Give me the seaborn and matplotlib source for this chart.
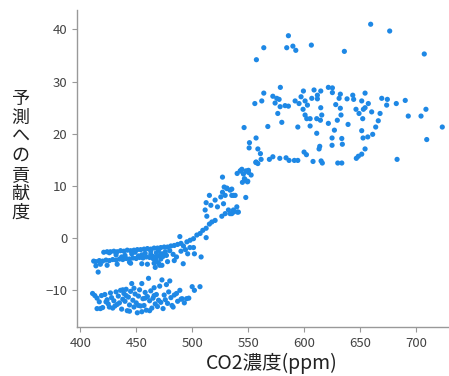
import matplotlib
matplotlib.use("Agg")
import matplotlib.pyplot as plt
import seaborn as sns
import pandas as pd

# ---- data ----
# upper-left band (contribution around -1 .. -5)
band_x = [421, 424, 427, 430, 433, 436, 439, 442, 445, 448, 451, 454, 457, 460, 463, 466, 469, 472, 475, 478, 481, 484, 487, 490,
          412, 414, 417, 420, 423, 426, 429, 432, 435, 438, 441, 444, 447, 450, 453, 456, 459, 462, 465, 468, 471, 474, 477,
          432, 440, 446, 452, 458, 463, 468, 472,
          414, 416, 418, 424, 433, 445, 455, 460, 467, 470, 473, 478, 484, 486, 492, 496, 502, 508, 490, 494, 498, 489,
          463, 465, 468, 470, 472, 474, 476, 471, 466, 426, 437, 449, 455, 444, 480, 483]
band_y = [-2.7, -2.6, -2.6, -2.5, -2.6, -2.4, -2.5, -2.3, -2.4, -2.3, -2.2, -2.2, -2.1, -2.0, -2.1, -1.9, -1.9, -1.8, -1.7, -1.7, -1.5, -1.4, -1.2, -1.0,
          -4.4, -4.5, -4.3, -4.4, -4.2, -4.3, -4.1, -4.2, -4.0, -4.1, -3.9, -4.0, -3.8, -3.9, -3.7, -3.8, -3.6, -3.7, -3.5, -3.6, -3.4, -3.5, -3.3,
          -3.2, -3.3, -3.0, -3.4, -2.9, -3.1, -2.8, -3.0,
          -5.3, -6.5, -5.0, -5.2, -5.0, -4.8, -4.9, -5.0, -5.6, -4.8, -5.2, -4.5, -4.3, -3.6, -4.9, -3.0, -3.0, -3.6, -2.5, -2.2, -1.8, 0.3,
          -2.5, -3.9, -4.4, -2.3, -4.0, -3.0, -2.6, -5.2, -4.8, -2.8, -3.6, -2.7, -3.2, -4.6, -2.4, -3.1]

# lower-left cluster (contribution around -8 .. -14)
low_x = [411, 413, 415, 417, 415, 418, 420, 419, 422, 424, 425, 427, 428, 430, 431, 432, 434, 435, 436, 437, 438, 439, 440, 441,
         442, 443, 444, 445, 446, 447, 448, 449, 450, 451, 452, 453, 454, 455, 456, 457, 458, 459, 460, 461, 462, 463, 464, 465,
         466, 467, 468, 469, 470, 471, 472, 473, 474, 475, 476, 477, 478, 479, 480, 481, 482, 483, 484, 486, 487, 489, 490, 491,
         493, 495, 497, 500, 502, 507, 433, 426, 444, 455, 462, 438, 448, 423, 429, 466, 452, 441, 458]
low_y = [-10.6, -11.0, -11.5, -12.2, -13.5, -13.5, -13.3, -11.0, -10.8, -11.8, -12.6, -10.5, -11.4, -12.0, -13.0, -10.3, -11.1, -12.4,
         -10.0, -13.6, -11.7, -10.6, -12.1, -9.8, -13.9, -11.3, -12.8, -10.2, -8.7, -11.9, -13.2, -10.7, -12.4, -14.3, -11.1, -9.9,
         -13.0, -8.7, -11.6, -12.9, -10.4, -13.8, -11.2, -7.7, -12.0, -10.1, -13.4, -11.5, -9.5, -12.6, -10.8, -13.1, -11.9, -9.2,
         -12.3, -8.0, -13.5, -10.9, -11.8, -8.9, -12.5, -10.3, -8.2, -11.4, -12.9, -13.2, -10.9, -10.6, -12.1, -10.0, -11.7, -11.6,
         -12.4, -11.6, -11.5, -9.3, -10.0, -9.3, -12.7, -13.2, -14.0, -14.1, -13.9, -9.9, -9.6, -12.2, -13.4, -11.0, -12.9, -11.0, -11.5]

# transition region (500 .. 560 ppm)
mid_x = [543.5, 545.8, 550.3, 552.7, 547.3, 549.4, 557.1, 527.1, 528.6, 531.0, 527.1, 533.9, 536.9, 529.5, 525.6, 547.9, 515.4,
         520.5, 512.5, 516.7, 522.6, 528.0, 532.4, 536.9, 540.4, 535.4, 529.5, 526.5, 511.6, 513.1, 520.5, 517.6, 515.4, 512.5,
         509.5, 507.1, 504.2, 501.2, 498.2, 495.3, 512.5, 492.2, 501.2, 535.4, 538.4, 539.9, 541.3, 536.9, 533.9,
         548.2, 544.4, 542.9, 540.2, 550.3, 546.7, 549.7, 544.9, 531.0, 535.4]
mid_y = [12.9, 12.3, 13.0, 12.1, 11.2, 10.8, 14.6, 11.7, 9.8, 9.5, 8.8, 9.2, 8.2, 8.2, 7.9, 7.8, 8.2,
         7.3, 6.8, 6.3, 6.0, 6.6, 5.4, 5.4, 5.0, 4.7, 4.7, 4.2, 5.4, 4.2, 3.4, 3.1, 2.7, 1.9,
         1.5, 0.9, 0.6, -0.1, -0.4, -0.7, 0.1, -1.5, -1.8, 8.2, 8.2, 6.0, 5.0, 5.0, 4.7,
         12.9, 13.2, 12.9, 12.4, 12.6, 11.4, 10.9, 10.7, 9.6, 9.4]

# high plateau (> 545 ppm)
high_x = [564.0, 578.8, 562.2, 556.0, 572.1, 575.6, 577.7, 574.1, 578.6, 583.0, 586.0, 576.5, 580.1, 567.6, 546.4, 592.0, 595.5,
          597.3, 599.4, 600.9, 603.0, 599.1, 600.9, 602.4, 605.4, 594.4, 605.4, 606.9, 608.9, 611.9, 611.9, 614.9, 614.9, 615.8,
          614.6, 611.3, 611.3, 621.7, 625.3, 625.3, 632.4, 631.3, 628.3, 632.4, 633.0, 629.7, 621.7, 627.1, 638.4, 643.5, 644.3,
          639.3, 646.4, 649.1, 651.5, 654.5, 657.4, 654.5, 653.0, 652.4, 660.4, 667.9, 666.3, 664.0, 661.3, 656.9, 652.7, 651.5,
          669.4, 674.4, 673.8, 682.4, 690.4, 693.1, 704.5, 708.9, 723.5, 709.6, 683.1, 633.7, 634.2, 625.0, 625.0, 614.0, 613.4,
          602.1, 600.0, 608.0, 615.2, 616.3, 630.1, 633.7, 646.7, 648.5, 651.5, 654.5, 591.3, 594.4, 586.6, 583.9, 578.3, 572.1,
          569.0, 561.6, 558.7, 556.9, 561.0, 558.7, 551.2, 550.9, 557.1]
high_y = [27.8, 28.9, 26.3, 25.8, 27.2, 26.8, 26.6, 25.9, 25.2, 25.4, 25.3, 23.9, 22.2, 21.4, 21.2, 26.3, 25.8,
          27.1, 28.2, 26.3, 25.5, 24.7, 23.6, 22.9, 22.9, 21.3, 21.5, 26.8, 28.4, 27.4, 26.7, 28.2, 25.0, 23.6,
          22.6, 22.9, 20.1, 28.9, 28.8, 27.9, 27.6, 26.8, 25.6, 24.9, 23.6, 22.6, 22.0, 20.7, 26.7, 27.4, 26.6,
          21.8, 24.7, 23.9, 26.3, 27.8, 25.8, 25.0, 24.7, 22.9, 24.2, 23.9, 22.5, 21.3, 19.9, 19.4, 19.2, 20.6,
          26.8, 26.6, 25.5, 25.8, 26.4, 23.4, 23.4, 24.7, 21.3, 18.9, 15.1, 19.1, 18.0, 19.2, 17.8, 17.6, 17.1,
          16.0, 16.5, 14.7, 14.8, 14.4, 14.4, 14.4, 15.3, 15.7, 16.1, 17.1, 14.9, 14.9, 14.9, 15.4, 15.3, 15.6,
          15.1, 15.1, 14.3, 14.5, 16.2, 17.1, 18.3, 17.3, 19.2]

# top outliers
top_x = [557.4, 564.0, 586.0, 584.5, 590.0, 592.6, 606.5, 636.0, 659.5, 676.5, 707.4]
top_y = [34.2, 36.5, 38.8, 36.5, 36.8, 36.0, 37.0, 35.8, 41.0, 39.7, 35.3]

x_ticks = [400, 450, 500, 550, 600, 650, 700]
y_ticks = [-10, 0, 10, 20, 30, 40]
x_label = "CO2濃度(ppm)"
y_label = "予測への貢献度"

df = pd.DataFrame({
    "co2": band_x + low_x + mid_x + high_x + top_x,
    "shap": band_y + low_y + mid_y + high_y + top_y,
})

sns.set_theme(style="ticks")
plt.rcParams["font.family"] = ["Noto Sans CJK JP", "DejaVu Sans"]

fig = plt.figure(figsize=(4.49, 3.76), dpi=100)
ax = fig.add_axes([0.172, 0.130, 0.828, 0.843])

sns.scatterplot(data=df, x="co2", y="shap", ax=ax, color="#1E88E5", s=14,
                linewidth=0, edgecolor="none", alpha=1.0)

ax.set_xlim(397.3, 729.5)
ax.set_ylim(-17.05, 43.7)
ax.set_xticks(x_ticks)
ax.set_yticks(y_ticks)
ax.set_xticklabels([str(v) for v in x_ticks])
ax.set_yticklabels([str(v).replace("-", "\u2212") for v in y_ticks])

for side in ["top", "right"]:
    ax.spines[side].set_visible(False)
for side in ["left", "bottom"]:
    ax.spines[side].set_color("#999999")
    ax.spines[side].set_linewidth(1.0)
ax.tick_params(axis="both", colors="#333333", labelsize=9.5, length=3.5, width=0.8,
               color="#999999", labelcolor="#444444")

ax.set_xlabel(x_label, fontsize=14, color="#222222", labelpad=2.5)
ax.xaxis.label.set_x(0.522)
ax.set_ylabel("\n".join(y_label), rotation=0, fontsize=13, color="#222222",
              linespacing=1.07, va="center", ha="center")
ax.yaxis.set_label_coords(-0.152, 0.54)

fig.savefig("out.png", dpi=100)
